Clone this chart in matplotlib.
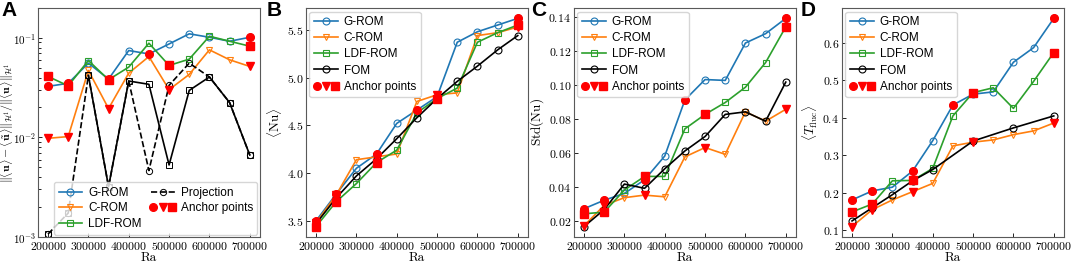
import matplotlib
matplotlib.use("Agg")
from matplotlib import pyplot as plt
from matplotlib.lines import Line2D
from matplotlib.legend_handler import HandlerTuple

plt.rcParams['font.family'] = 'serif'
plt.rcParams['font.serif'] = ['cmr10']
plt.rcParams['mathtext.fontset'] = 'cm'
plt.rcParams['axes.formatter.use_mathtext'] = True
plt.rcParams['xtick.direction'] = 'in'
plt.rcParams['ytick.direction'] = 'in'

ra = [200000, 250000, 300000, 350000, 400000, 450000,
      500000, 550000, 600000, 650000, 700000]
# anchor point indices for each ROM
g_anchor = [0, 1, 3, 5, 10]
c_anchor = [0, 1, 3, 6, 10]
ldf_anchor = [0, 1, 3, 6, 10]

# panel A: relative H1 error
a_grom = [0.0326, 0.035, 0.0558, 0.0386, 0.0747, 0.069, 0.087, 0.110, 0.1015, 0.0926, 0.1015]
a_crom = [0.0098, 0.0102, 0.0471, 0.0195, 0.0443, 0.065, 0.0302, 0.043, 0.0759, 0.0603, 0.0517]
a_ldf = [0.041, 0.033, 0.0593, 0.038, 0.0509, 0.0885, 0.0529, 0.0612, 0.104, 0.0926, 0.0826]
a_proj_dash = [0.00107, 0.00174, 0.042, 0.0032, 0.0369, 0.00465, 0.0334, 0.0558, 0.0405, 0.0224, 0.00666]
a_proj_solid = [0.00107, 0.00174, 0.042, 0.0032, 0.0369, 0.0342, 0.00529, 0.0297, 0.0405, 0.0224, 0.00666]

# panel B: mean Nu
b_grom = [3.50, 3.78, 4.05, 4.20, 4.52, 4.66, 4.80, 5.37, 5.48, 5.55, 5.62]
b_crom = [3.48, 3.77, 4.14, 4.17, 4.20, 4.75, 4.82, 4.84, 5.44, 5.47, 5.53]
b_ldf = [3.44, 3.70, 3.89, 4.11, 4.24, 4.63, 4.78, 4.89, 5.37, 5.47, 5.55]
b_fom = [3.47, 3.74, 3.97, 4.15, 4.36, 4.58, 4.78, 4.96, 5.12, 5.29, 5.44]

# panel C: std of Nu
c_grom = [0.027, 0.032, 0.036, 0.044, 0.058, 0.091, 0.103, 0.1025, 0.1245, 0.130, 0.139]
c_crom = [0.017, 0.029, 0.0335, 0.035, 0.034, 0.0575, 0.063, 0.059, 0.084, 0.0785, 0.0855]
c_ldf = [0.024, 0.025, 0.038, 0.046, 0.046, 0.074, 0.0825, 0.0895, 0.0985, 0.113, 0.134]
c_fom = [0.0165, 0.0265, 0.0415, 0.039, 0.0505, 0.061, 0.0695, 0.0825, 0.084, 0.0785, 0.1015]

# panel D: mean T fluctuation
d_grom = [0.181, 0.205, 0.215, 0.258, 0.339, 0.434, 0.463, 0.469, 0.548, 0.587, 0.665]
d_crom = [0.110, 0.155, 0.181, 0.203, 0.225, 0.325, 0.335, 0.341, 0.355, 0.365, 0.386]
d_ldf = [0.149, 0.170, 0.232, 0.233, 0.265, 0.405, 0.467, 0.480, 0.425, 0.497, 0.574]
ra_fom_d = [200000, 250000, 300000, 350000, 400000, 500000, 600000, 700000]
d_fom = [0.125, 0.160, 0.195, 0.232, 0.262, 0.338, 0.373, 0.405]

legend_font = {'family': 'Liberation Sans', 'size': 8.5}
line_kw = dict(lw=1.2, ms=5, mfc='none', mew=0.8)


def pick(vals, idx):
    return [vals[i] for i in idx]


def plot_roms(ax, grom, crom, ldf):
    ax.plot(ra, grom, marker='o', color='tab:blue', label='G-ROM', **line_kw)
    ax.plot(ra, crom, marker='v', color='tab:orange', label='C-ROM', **line_kw)
    ax.plot(ra, ldf, marker='s', color='tab:green', label='LDF-ROM', **line_kw)


def plot_anchors(ax, grom, crom, ldf):
    ax.plot(pick(ra, g_anchor), pick(grom, g_anchor), 'o', color='red', ms=5.5, zorder=5)
    ax.plot(pick(ra, c_anchor), pick(crom, c_anchor), 'v', color='red', ms=5.5, zorder=5)
    ax.plot(pick(ra, ldf_anchor), pick(ldf, ldf_anchor), 's', color='red', ms=5.5, zorder=5)


def anchor_handle():
    return (Line2D([], [], marker='o', color='red', ls='none', ms=5.5),
            Line2D([], [], marker='v', color='red', ls='none', ms=5.5),
            Line2D([], [], marker='s', color='red', ls='none', ms=5.5))


def style_axis(ax):
    for s in ax.spines.values():
        s.set_color('0.35')
        s.set_linewidth(0.8)
    ax.tick_params(labelsize=8.5, length=3, width=0.6, pad=2)
    ax.set_xticks([200000, 300000, 400000, 500000, 600000, 700000])
    ax.set_xlabel('Ra', fontsize=9.5, labelpad=0)


fig = plt.figure(figsize=(10.72, 2.63), dpi=100)
lefts = [0.0354, 0.2854, 0.5354, 0.7854]
axes = [fig.add_axes([l, 0.099, 0.207, 0.8707]) for l in lefts]

# A
ax = axes[0]
plot_roms(ax, a_grom, a_crom, a_ldf)
ax.plot(ra, a_proj_dash, ls='--', marker='o', color='black', lw=1.2, ms=4.5, mfc='none', mew=0.7,
        label='Projection')
ax.plot(ra[2:], a_proj_solid[2:], ls='-', marker='s', color='black', lw=1.2, ms=4.5, mfc='none', mew=0.7)
ax.plot(ra[:2], a_proj_solid[:2], ls='none', marker='s', color='black', ms=4.5, mfc='none', mew=0.7)
plot_anchors(ax, a_grom, a_crom, a_ldf)
ax.set_yscale('log')
ax.set_ylim(1e-3, 0.2)
style_axis(ax)
ax.tick_params(axis='y', labelsize=8, pad=1)
ax.set_ylabel(r'$\|\langle\mathbf{u}\rangle-\langle\tilde{\mathbf{u}}\rangle\|_{\mathcal{H}^1}'
              r'/\|\langle\mathbf{u}\rangle\|_{\mathcal{H}^1}$', fontsize=8.5)
ax.yaxis.set_label_coords(-0.1, 0.5)
h, l = ax.get_legend_handles_labels()
handles = [h[0], h[1], h[2], h[3], anchor_handle()]
labels = ['G-ROM', 'C-ROM', 'LDF-ROM', 'Projection', 'Anchor points']
ax.legend(handles, labels, ncol=2, loc='lower right',
          prop=legend_font, handler_map={tuple: HandlerTuple(ndivide=None)},
          handlelength=2.0, borderaxespad=0.2, columnspacing=0.8, labelspacing=0.3,
          handletextpad=0.5)

# B, C, D
panels = [
    (axes[1], b_grom, b_crom, b_ldf, ra, b_fom, r'$\langle \mathrm{Nu} \rangle$'),
    (axes[2], c_grom, c_crom, c_ldf, ra, c_fom, r'$\mathrm{Std}(\mathrm{Nu})$'),
    (axes[3], d_grom, d_crom, d_ldf, ra_fom_d, d_fom, r'$\langle T_{\mathrm{fluc}} \rangle$'),
]
for ax, g, c, ld, rf, fom, ylab in panels:
    plot_roms(ax, g, c, ld)
    ax.plot(rf, fom, marker='o', color='black', label='FOM', **line_kw)
    plot_anchors(ax, g, c, ld)
    ax.set_ylabel(ylab, fontsize=9.5, labelpad=2)
    h, l = ax.get_legend_handles_labels()
    ax.legend(h + [anchor_handle()], l + ['Anchor points'], loc='upper left', prop=legend_font,
              handler_map={tuple: HandlerTuple(ndivide=None)}, handlelength=2.0,
              borderaxespad=0.3, labelspacing=0.35, handletextpad=0.5)
    style_axis(ax)

axes[2].set_yticks([0.02, 0.04, 0.06, 0.08, 0.10, 0.12, 0.14])

for x, lab in zip([0.001, 0.249, 0.495, 0.747], ['A', 'B', 'C', 'D']):
    fig.text(x, 0.995, lab, fontsize=15, fontweight='bold', family='Liberation Sans',
             ha='left', va='top')

fig.savefig('out.png', dpi=100)
